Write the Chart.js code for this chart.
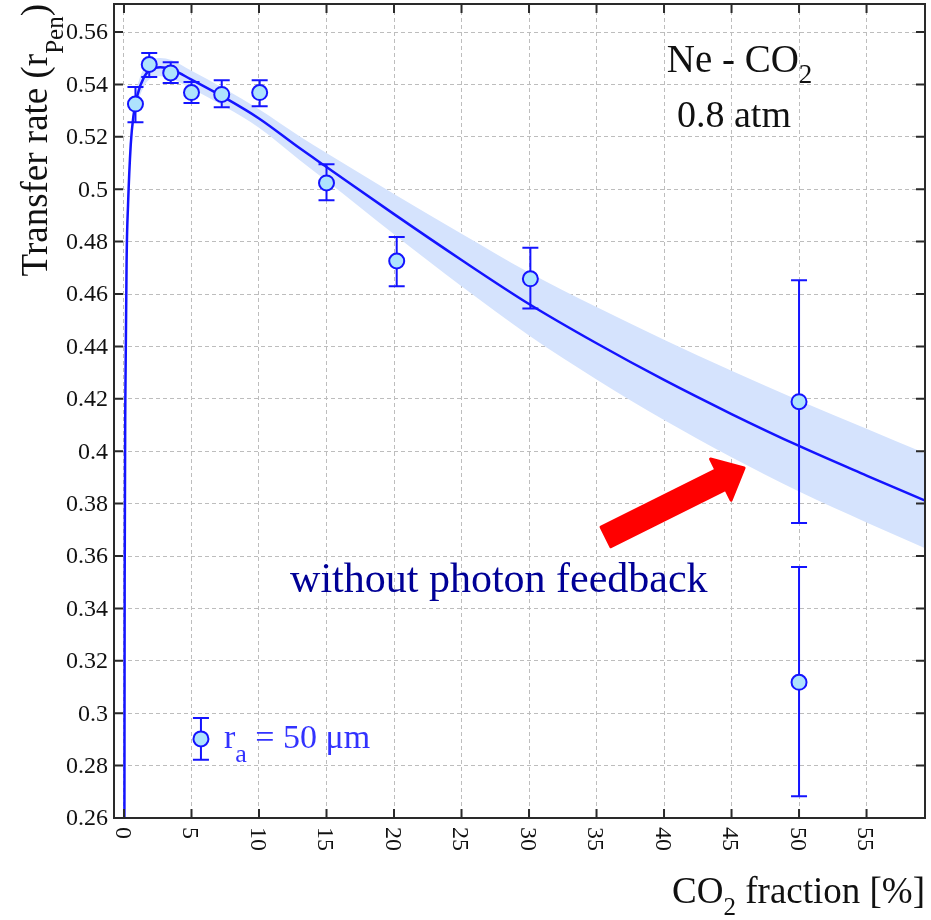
<!DOCTYPE html>
<html>
<head>
<meta charset="utf-8">
<script src="https://cdn.jsdelivr.net/npm/chart.js"></script>
<style>
  body { margin: 0; background: #fff; }
  #wrap { width: 931px; height: 920px; position: relative; }
</style>
</head>
<body>
<div id="wrap"><canvas id="myChart"></canvas></div>
<script>
// measured points, CO2 fraction [%] vs transfer rate
const ptX = [0.85, 1.87, 3.46, 5.0, 7.24, 10.05, 15.0, 20.2, 30.1, 50.0, 50.0]
const ptY = [0.5325, 0.5476, 0.5444, 0.5369, 0.5362, 0.5369, 0.5024, 0.4726, 0.4658, 0.4189, 0.3118]
const errHi = [0.539, 0.552, 0.5485, 0.5409, 0.5416, 0.5416, 0.5095, 0.4818, 0.4777, 0.4653, 0.3558]
const errLo = [0.5256, 0.5428, 0.5405, 0.5329, 0.5313, 0.5317, 0.4958, 0.463, 0.4545, 0.3726, 0.2683]

// fit curve and its uncertainty band
const curveX = [0.03, 0.05, 0.1, 0.2, 0.3, 0.5, 0.7, 1, 1.5, 2, 2.7, 3.5, 5, 7.5, 10, 13, 15, 20, 25, 30, 35, 40, 45, 50, 55, 59.3]
const curveY = [0.255, 0.35, 0.42, 0.475, 0.494, 0.517, 0.528, 0.536, 0.543, 0.5458, 0.5466, 0.5458, 0.5418, 0.5348, 0.527, 0.5157, 0.5085, 0.4905, 0.473, 0.4562, 0.4412, 0.4272, 0.4142, 0.402, 0.3907, 0.3812]
const bandHi = [0.258, 0.353, 0.423, 0.478, 0.497, 0.52, 0.531, 0.5395, 0.5465, 0.5492, 0.5501, 0.5493, 0.5452, 0.5382, 0.5305, 0.5202, 0.5138, 0.4982, 0.483, 0.4682, 0.455, 0.4425, 0.4307, 0.4194, 0.4086, 0.3993]
const bandLo = [0.252, 0.347, 0.417, 0.472, 0.491, 0.514, 0.525, 0.5325, 0.5395, 0.5424, 0.5431, 0.5423, 0.5384, 0.5314, 0.5235, 0.5112, 0.5032, 0.4828, 0.463, 0.4442, 0.4274, 0.4119, 0.3977, 0.3846, 0.3728, 0.3631]

// axis ticks
const xTickValues = [0, 5, 10, 15, 20, 25, 30, 35, 40, 45, 50, 55]
const xTickLabels = ['0', '5', '10', '15', '20', '25', '30', '35', '40', '45', '50', '55']
const yTickValues = [0.26, 0.28, 0.3, 0.32, 0.34, 0.36, 0.38, 0.4, 0.42, 0.44, 0.46, 0.48, 0.5, 0.52, 0.54, 0.56]
const yTickLabels = ['0.26', '0.28', '0.3', '0.32', '0.34', '0.36', '0.38', '0.4', '0.42', '0.44', '0.46', '0.48', '0.5', '0.52', '0.54', '0.56']

const SERIF = "'Liberation Serif', 'DejaVu Serif', serif"
const BLUE = '#1414ff'
const DOT = '#aee3fd'

function toXY(xs, ys) {
    let out = []
    for (let i = 0; i < xs.length; i++) out.push({ x: xs[i], y: ys[i] })
    return out
}

// draws a run of [text, size, dy] pieces from x, on baseline y
function drawRuns(ctx, runs, x, y) {
    runs.forEach(r => {
        ctx.font = r[1] + 'px ' + SERIF
        ctx.fillText(r[0], x, y + r[2])
        x += ctx.measureText(r[0]).width
    })
    return x
}
function runsWidth(ctx, runs) {
    let w = 0
    runs.forEach(r => {
        ctx.font = r[1] + 'px ' + SERIF
        w += ctx.measureText(r[0]).width
    })
    return w
}

function errorBar(ctx, px, top, bot) {
    ctx.beginPath()
    ctx.moveTo(px, top); ctx.lineTo(px, bot)
    ctx.moveTo(px - 8, top); ctx.lineTo(px + 8, top)
    ctx.moveTo(px - 8, bot); ctx.lineTo(px + 8, bot)
    ctx.stroke()
}

const decorations = {
    id: 'decorations',
    beforeDatasetDraw(chart, args) {
        if (args.index !== 3) return
        const ctx = chart.ctx, xs = chart.scales.x, ys = chart.scales.y
        ctx.save()
        ctx.strokeStyle = BLUE
        ctx.lineWidth = 2
        for (let i = 0; i < ptX.length; i++) {
            errorBar(ctx, xs.getPixelForValue(ptX[i]), ys.getPixelForValue(errHi[i]), ys.getPixelForValue(errLo[i]))
        }
        ctx.restore()
    },
    afterDraw(chart) {
        const ctx = chart.ctx, a = chart.chartArea, xs = chart.scales.x, ys = chart.scales.y
        ctx.save()

        // frame and inward ticks
        ctx.strokeStyle = '#2a2a2a'
        ctx.lineWidth = 2
        ctx.strokeRect(a.left, a.top, a.right - a.left, a.bottom - a.top)
        ctx.beginPath()
        xTickValues.forEach(v => {
            const px = xs.getPixelForValue(v)
            ctx.moveTo(px, a.bottom); ctx.lineTo(px, a.bottom - 9)
            ctx.moveTo(px, a.top); ctx.lineTo(px, a.top + 9)
        })
        yTickValues.forEach(v => {
            const py = ys.getPixelForValue(v)
            ctx.moveTo(a.left, py); ctx.lineTo(a.left + 9, py)
            ctx.moveTo(a.right, py); ctx.lineTo(a.right - 9, py)
        })
        ctx.stroke()

        // y tick labels
        ctx.fillStyle = '#111'
        ctx.font = '24px ' + SERIF
        ctx.textAlign = 'right'
        ctx.textBaseline = 'middle'
        yTickValues.forEach((v, i) => {
            ctx.fillText(yTickLabels[i], a.left - 6, ys.getPixelForValue(v) + 1)
        })

        // x tick labels, turned clockwise
        ctx.font = '24px ' + SERIF
        ctx.textAlign = 'left'
        xTickValues.forEach((v, i) => {
            ctx.save()
            ctx.translate(xs.getPixelForValue(v) - 2, a.bottom + 9)
            ctx.rotate(Math.PI / 2)
            ctx.fillText(xTickLabels[i], 0, 0)
            ctx.restore()
        })
        ctx.textBaseline = 'alphabetic'

        // y title, rotated and flush with the top
        const yRuns = [['Transfer rate (r', 37, 0], ['Pen', 25, 16], [')', 37, 0]]
        ctx.save()
        ctx.translate(47, 4)
        ctx.rotate(-Math.PI / 2)
        drawRuns(ctx, yRuns, -runsWidth(ctx, yRuns), 0)
        ctx.restore()

        // x title, flush with the right edge
        const xRuns = [['CO', 37, 0], ['2', 25, 12], [' fraction [%]', 37, 0]]
        drawRuns(ctx, xRuns, a.right - runsWidth(ctx, xRuns), 903)

        // gas label
        drawRuns(ctx, [['Ne - CO', 39, 0], ['2', 27, 11]], xs.getPixelForValue(40.2), ys.getPixelForValue(0.5447))
        drawRuns(ctx, [['0.8 atm', 38, 0]], xs.getPixelForValue(40.96), ys.getPixelForValue(0.5237))

        // note
        ctx.fillStyle = '#000096'
        drawRuns(ctx, [['without photon feedback', 42, 0]], xs.getPixelForValue(12.3), ys.getPixelForValue(0.3463))

        // red arrow
        const tx = xs.getPixelForValue(35.7), ty = ys.getPixelForValue(0.3673)
        const hx = xs.getPixelForValue(45.93), hy = ys.getPixelForValue(0.3936)
        const ang = Math.atan2(hy - ty, hx - tx)
        const len = Math.hypot(hx - tx, hy - ty)
        ctx.save()
        ctx.translate(tx, ty)
        ctx.rotate(ang)
        ctx.fillStyle = '#ff0000'
        ctx.strokeStyle = '#ff0000'
        ctx.lineJoin = 'round'
        ctx.lineWidth = 3
        ctx.beginPath()
        ctx.moveTo(0, -11)
        ctx.lineTo(len - 26, -11)
        ctx.lineTo(len - 26, -23)
        ctx.lineTo(len, 0)
        ctx.lineTo(len - 26, 23)
        ctx.lineTo(len - 26, 11)
        ctx.lineTo(0, 11)
        ctx.closePath()
        ctx.fill()
        ctx.stroke()
        ctx.restore()

        // legend
        const lx = xs.getPixelForValue(5.7), ly = ys.getPixelForValue(0.2902)
        ctx.strokeStyle = BLUE
        ctx.lineWidth = 2
        errorBar(ctx, lx, ys.getPixelForValue(0.2982), ys.getPixelForValue(0.2822))
        ctx.beginPath()
        ctx.arc(lx, ly, 7.5, 0, Math.PI * 2)
        ctx.fillStyle = DOT
        ctx.fill()
        ctx.stroke()
        ctx.fillStyle = '#3232ff'
        drawRuns(ctx, [['r', 34, 0], ['a', 26, 14], [' = 50 \u03bcm', 34, 0]], xs.getPixelForValue(7.4), ys.getPixelForValue(0.2867))

        ctx.restore()
    }
}

const data = {
    datasets: [{
        label: 'band hi',
        data: toXY(curveX, bandHi),
        borderWidth: 0,
        pointRadius: 0,
        backgroundColor: '#d5e3fd',
        fill: '+1',
        cubicInterpolationMode: 'monotone',
        order: 3
    }, {
        label: 'band lo',
        data: toXY(curveX, bandLo),
        borderWidth: 0,
        pointRadius: 0,
        fill: false,
        cubicInterpolationMode: 'monotone',
        order: 2
    }, {
        label: 'fit',
        data: toXY(curveX, curveY),
        borderColor: BLUE,
        borderWidth: 2.5,
        pointRadius: 0,
        fill: false,
        cubicInterpolationMode: 'monotone',
        order: 1
    }, {
        label: 'r_a = 50 um',
        data: toXY(ptX, ptY),
        showLine: false,
        pointRadius: 7.5,
        pointBorderWidth: 2,
        pointBackgroundColor: DOT,
        pointBorderColor: BLUE,
        order: 0
    }]
}

const config = {
    type: 'line',
    data: data,
    options: {
        responsive: true,
        maintainAspectRatio: false,
        animation: false,
        layout: { autoPadding: false, padding: { top: 4, right: 6, left: 0, bottom: 0 } },
        plugins: {
            legend: { display: false },
            tooltip: { enabled: false }
        },
        scales: {
            x: {
                type: 'linear',
                min: -0.74,
                max: 59.33,
                afterBuildTicks: (scale) => { scale.ticks = xTickValues.map(v => ({ value: v })) },
                afterFit: (scale) => { scale.height = 102 },
                ticks: { display: false },
                grid: { color: '#bdbdbd', lineWidth: 1, drawTicks: false },
                border: { display: false, dash: [4, 3] }
            },
            y: {
                type: 'linear',
                min: 0.26,
                max: 0.5707,
                afterBuildTicks: (scale) => { scale.ticks = yTickValues.map(v => ({ value: v })) },
                afterFit: (scale) => { scale.width = 114 },
                ticks: { display: false },
                grid: { color: '#bdbdbd', lineWidth: 1, drawTicks: false },
                border: { display: false, dash: [4, 3] }
            }
        }
    },
    plugins: [decorations]
}

var myChart = new Chart(document.getElementById('myChart'), config)
</script>
</body>
</html>
